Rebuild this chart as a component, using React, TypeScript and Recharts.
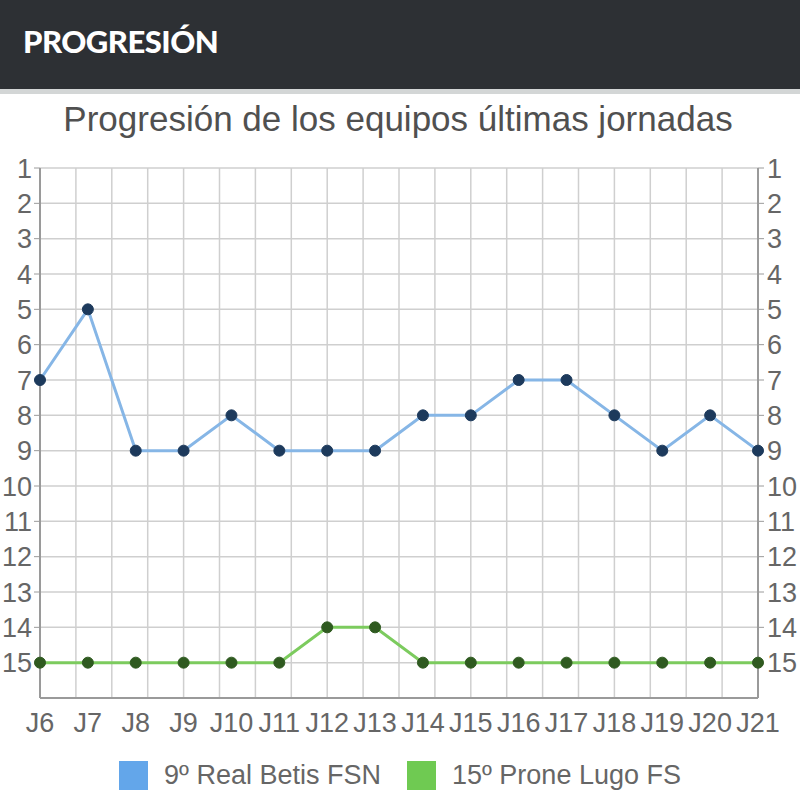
import React from 'react';
import { LineChart, Line, XAxis, YAxis, CartesianGrid, Legend } from 'recharts';

const jornadas = ['J6', 'J7', 'J8', 'J9', 'J10', 'J11', 'J12', 'J13', 'J14', 'J15', 'J16', 'J17', 'J18', 'J19', 'J20', 'J21'];
const betis = [7, 5, 9, 9, 8, 9, 9, 9, 8, 8, 7, 7, 8, 9, 8, 9];
const lugo = [15, 15, 15, 15, 15, 15, 14, 14, 15, 15, 15, 15, 15, 15, 15, 15];
const yTicks = [1, 2, 3, 4, 5, 6, 7, 8, 9, 10, 11, 12, 13, 14, 15];
const seriesNames = ['9º Real Betis FSN', '15º Prone Lugo FS'];
const seriesColors = ['#63a6ea', '#6fca52'];
const lineColors = ['#86b6e6', '#7ccb5e'];
const dotColors = ['#1d3a5c', '#2f5a20'];

const data = jornadas.map((j, i) => ({ j, betis: betis[i], lugo: lugo[i] }));

const FONT = '"Liberation Sans", Arial, Helvetica, sans-serif';

const renderLegend = () => {
  return (
    <div style={{ display: 'flex', justifyContent: 'center', alignItems: 'center', width: 800, fontFamily: FONT }}>
      {seriesNames.map((name, i) => (
        <div key={i} style={{ display: 'flex', alignItems: 'center', marginRight: i === 0 ? 26 : 0 }}>
          <div style={{ width: 29, height: 29, background: seriesColors[i] }} />
          <span style={{ marginLeft: 16, fontSize: 27, color: '#666', lineHeight: '29px' }}>{name}</span>
        </div>
      ))}
    </div>
  );
};

export default function App() {
  return (
    <div style={{ position: 'absolute', left: 0, top: 0, width: 800, height: 812, background: '#fff', overflow: 'hidden' }}>
      <div style={{ position: 'absolute', left: 0, top: 0, width: 800, height: 89, background: '#2d3034' }} />
      <div style={{ position: 'absolute', left: 0, top: 89, width: 800, height: 5, background: '#d3d6d6' }} />
      <div style={{ position: 'absolute', left: 23, top: 21, height: 40, lineHeight: '40px', fontFamily: 'Lato, "Open Sans", sans-serif', fontWeight: 900, fontSize: 31, color: '#fff', letterSpacing: -0.5 }}>
        PROGRESIÓN
      </div>
      <div style={{ position: 'absolute', left: 0, top: 99, width: 796, textAlign: 'center', lineHeight: '40px', fontFamily: FONT, fontSize: 35, color: '#505050' }}>
        Progresión de los equipos últimas jornadas
      </div>
      <div style={{ position: 'absolute', left: 0, top: 94 }}>
        <LineChart width={800} height={718} data={data} margin={{ top: 74, right: 0, left: 0, bottom: 54 }} style={{ fontFamily: FONT }}>
          <CartesianGrid
            stroke="#cfcfcf"
            strokeWidth={1.5}
            verticalCoordinatesGenerator={(props: any) => {
              const off = props.offset;
              const pts: number[] = [];
              for (let k = 0; k <= 20; k++) pts.push(off.left + (off.width * k) / 20);
              return pts;
            }}
          />
          <XAxis
            dataKey="j"
            interval={0}
            height={60}
            tickLine={false}
            tickSize={6}
            tickMargin={9}
            axisLine={{ stroke: '#9a9a9a', strokeWidth: 2 }}
            tick={{ fontSize: 27, fill: '#666' }}
          />
          <YAxis
            type="number"
            domain={[1, 16]}
            reversed
            allowDataOverflow
            ticks={yTicks}
            interval={0}
            width={40}
            tickSize={6}
            tickMargin={2}
            axisLine={{ stroke: '#9a9a9a', strokeWidth: 2 }}
            tickLine={{ stroke: '#9a9a9a' }}
            tick={{ fontSize: 27, fill: '#666' }}
          />
          <YAxis
            yAxisId="r"
            orientation="right"
            type="number"
            domain={[1, 16]}
            reversed
            allowDataOverflow
            ticks={yTicks}
            interval={0}
            width={42}
            tickSize={6}
            tickMargin={3}
            axisLine={{ stroke: '#9a9a9a', strokeWidth: 2 }}
            tickLine={{ stroke: '#9a9a9a' }}
            tick={{ fontSize: 27, fill: '#666' }}
          />
          <Legend
            verticalAlign="middle"
            layout="horizontal"
            content={renderLegend}
            wrapperStyle={{ top: 667, left: 0, width: 800 }}
          />
          <Line
            type="linear"
            dataKey="betis"
            name={seriesNames[0]}
            stroke={lineColors[0]}
            strokeWidth={3}
            dot={{ r: 5.5, fill: dotColors[0], stroke: dotColors[0], strokeWidth: 1 }}
            activeDot={false}
            isAnimationActive={false}
          />
          <Line
            type="linear"
            dataKey="lugo"
            name={seriesNames[1]}
            stroke={lineColors[1]}
            strokeWidth={3}
            dot={{ r: 5.5, fill: dotColors[1], stroke: dotColors[1], strokeWidth: 1 }}
            activeDot={false}
            isAnimationActive={false}
          />
        </LineChart>
      </div>
    </div>
  );
}
